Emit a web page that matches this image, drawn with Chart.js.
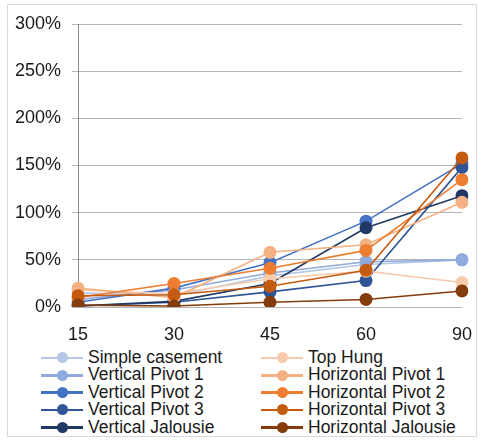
<!DOCTYPE html>
<html>
<head>
<meta charset="utf-8">
<script src="https://cdn.jsdelivr.net/npm/chart.js@4/dist/chart.umd.min.js"></script>
<style>
  html, body { margin: 0; padding: 0; background: #fff; }
  body { width: 481px; height: 440px; position: relative; overflow: hidden;
         font-family: "Liberation Sans", Arial, sans-serif; }
  #frame { position: absolute; left: 7px; top: 4px; width: 470px; height: 433px;
           border: 1px solid #d9d9d9; box-sizing: border-box; }
  #wrap { position: absolute; left: 0; top: 0; width: 481px; height: 345px; }
  #legend { position: absolute; left: 41px; top: 349px; width: 440px;
            display: grid; grid-template-columns: 220px 220px; grid-auto-flow: column;
            grid-template-rows: repeat(5, 17.4px); }
  .item { display: flex; align-items: center; font-size: 17.5px; color: #1a1a1a;
          line-height: 17.4px; white-space: nowrap; }
  .mark { position: relative; width: 42px; height: 12px; margin-right: 5px; flex: none; }
  .mark .ln { position: absolute; left: 0; right: 0; top: 5px; height: 2.5px; }
  .mark .dot { position: absolute; left: 15.5px; top: 0.5px; width: 11px; height: 11px; border-radius: 50%; }
</style>
</head>
<body>
<div id="frame"></div>
<div id="wrap"><canvas id="chart"></canvas></div>
<div id="legend"></div>
<script>
const categorias = ['15', '30', '45', '60', '90'];

const simpleCasement     = [15, 12, 33, 45, 50];
const verticalPivot1     = [8, 18, 36, 48, 50];
const verticalPivot2     = [5, 20, 47, 91, 152];
const verticalPivot3     = [1, 5, 16, 28, 148];
const verticalJalousie   = [1, 6, 25, 84, 118];
const topHung            = [18, 14, 30, 38, 26];
const horizontalPivot1   = [20, 10, 58, 66, 111];
const horizontalPivot2   = [10, 25, 41, 60, 135];
const horizontalPivot3   = [12, 13, 22, 39, 158];
const horizontalJalousie = [2, 1, 5, 8, 17];

const yTicks = [0, 50, 100, 150, 200, 250, 300];

// ordem da legenda: coluna azul, depois coluna laranja
const series = [
    { label: 'Simple casement',     data: simpleCasement,     cor: '#B4C7E7' },
    { label: 'Vertical Pivot 1',    data: verticalPivot1,     cor: '#8FAADC' },
    { label: 'Vertical Pivot 2',    data: verticalPivot2,     cor: '#4472C4' },
    { label: 'Vertical Pivot 3',    data: verticalPivot3,     cor: '#2F5597' },
    { label: 'Vertical Jalousie',   data: verticalJalousie,   cor: '#1F3864' },
    { label: 'Top Hung',            data: topHung,            cor: '#F8CBAD' },
    { label: 'Horizontal Pivot 1',  data: horizontalPivot1,   cor: '#F4B183' },
    { label: 'Horizontal Pivot 2',  data: horizontalPivot2,   cor: '#ED7D31' },
    { label: 'Horizontal Pivot 3',  data: horizontalPivot3,   cor: '#C55A11' },
    { label: 'Horizontal Jalousie', data: horizontalJalousie, cor: '#843C0C' }
];

const fonte = { family: '"Liberation Sans", Arial, sans-serif', size: 18 };

const chart = new Chart(document.getElementById('chart'), {
    type: 'line',
    data: {
        labels: categorias,
        datasets: series.map((s, i) => ({
            label: s.label,
            data: s.data,
            borderColor: s.cor,
            backgroundColor: s.cor,
            borderWidth: 1.6,
            pointRadius: 6.5,
            pointHoverRadius: 6.5,
            pointBorderWidth: 0,
            tension: 0,
            order: series.length - i // os ultimos ficam por cima
        }))
    },
    options: {
        responsive: true,
        maintainAspectRatio: false,
        animation: false,
        layout: { padding: { top: 24, right: 18, left: 0, bottom: 0 } },
        plugins: { legend: { display: false }, tooltip: { enabled: false } },
        scales: {
            x: {
                offset: false,
                grid: { display: false },
                border: { display: false },
                ticks: { color: '#1a1a1a', font: fonte, padding: 9, maxRotation: 0 },
                afterFit: (scale) => { scale.height = 38; }
            },
            y: {
                min: 0,
                max: 300,
                afterBuildTicks: (scale) => { scale.ticks = yTicks.map(v => ({ value: v })); },
                grid: { color: '#b5b5b5', lineWidth: 1, tickLength: 6, tickColor: '#b5b5b5' },
                border: { display: true, color: '#8a8a8a', width: 1 },
                ticks: { color: '#1a1a1a', font: fonte, padding: 11, callback: v => v + '%' },
                afterFit: (scale) => { scale.width = 78; }
            }
        }
    }
});

// legenda em HTML (duas colunas)
const legenda = document.getElementById('legend');
legenda.innerHTML = series.map(s =>
    `<div class="item"><span class="mark"><span class="ln" style="background:${s.cor}"></span>` +
    `<span class="dot" style="background:${s.cor}"></span></span>${s.label}</div>`
).join('');
</script>
</body>
</html>
